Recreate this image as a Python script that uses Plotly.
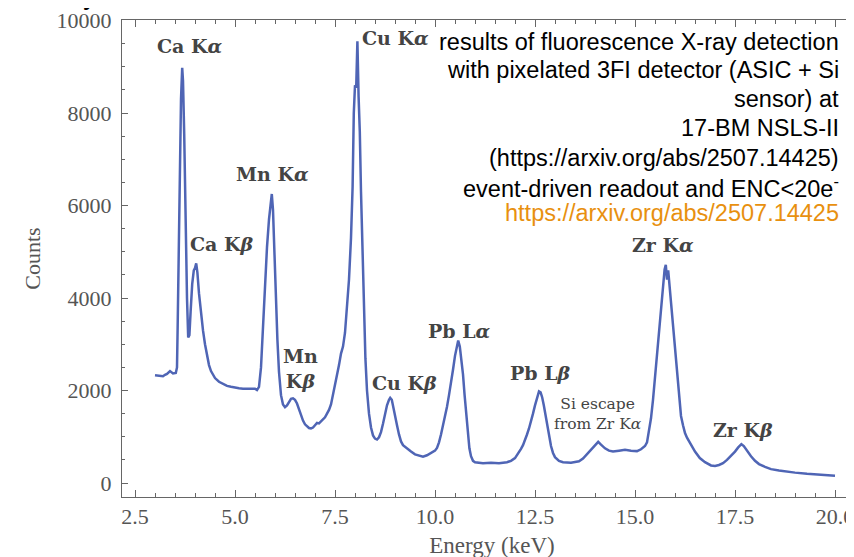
import plotly.graph_objects as go

# Energy (keV) and counts
energy = [3.00, 3.10, 3.20, 3.25, 3.30, 3.375, 3.45, 3.52, 3.55, 3.565, 3.58, 3.60, 3.625, 3.65, 3.68, 3.70,
          3.73, 3.75, 3.775, 3.80, 3.83, 3.86, 3.89, 3.93, 3.97, 4.00, 4.03, 4.06, 4.10, 4.15, 4.20, 4.25,
          4.30, 4.35, 4.40, 4.45, 4.50, 4.60, 4.70, 4.80, 4.90, 5.00, 5.10, 5.20, 5.30, 5.40, 5.50, 5.55,
          5.60, 5.65, 5.70, 5.75, 5.80, 5.85, 5.88, 5.92, 5.95, 5.98, 6.02, 6.06, 6.10, 6.15, 6.20, 6.25,
          6.30, 6.35, 6.40, 6.45, 6.50, 6.55, 6.60, 6.65, 6.70, 6.75, 6.80, 6.85, 6.90, 6.95, 7.00, 7.05,
          7.10, 7.15, 7.20, 7.25, 7.30, 7.35, 7.40, 7.45, 7.50, 7.55, 7.60, 7.65, 7.70, 7.75, 7.80, 7.85,
          7.90, 7.94, 7.97, 8.00, 8.03, 8.06, 8.09, 8.12, 8.15, 8.18, 8.22, 8.26, 8.30, 8.35, 8.40, 8.45,
          8.50, 8.55, 8.60, 8.65, 8.70, 8.75, 8.80, 8.85, 8.88, 8.92, 8.96, 9.00, 9.05, 9.10, 9.15, 9.20,
          9.30, 9.40, 9.50, 9.60, 9.70, 9.80, 9.90, 10.00, 10.05, 10.10, 10.15, 10.20, 10.25, 10.30, 10.35,
          10.40, 10.45, 10.50, 10.55, 10.58, 10.62, 10.66, 10.70, 10.74, 10.78, 10.82, 10.86, 10.90, 10.95,
          11.00, 11.20, 11.40, 11.60, 11.80, 11.90, 12.00, 12.05, 12.10, 12.15, 12.20, 12.25, 12.30, 12.35,
          12.40, 12.45, 12.50, 12.55, 12.60, 12.64, 12.68, 12.72, 12.76, 12.80, 12.85, 12.90, 12.95, 13.00,
          13.10, 13.20, 13.40, 13.60, 13.70, 13.80, 13.90, 14.00, 14.08, 14.15, 14.25, 14.35, 14.45, 14.60,
          14.75, 14.90, 15.05, 15.15, 15.25, 15.30, 15.35, 15.40, 15.45, 15.50, 15.55, 15.60, 15.65, 15.70,
          15.74, 15.77, 15.80, 15.83, 15.87, 15.91, 15.95, 16.00, 16.05, 16.10, 16.15, 16.20, 16.25, 16.30,
          16.40, 16.50, 16.62, 16.75, 16.90, 17.00, 17.10, 17.20, 17.30, 17.40, 17.50, 17.58, 17.66, 17.72,
          17.80, 17.90, 18.00, 18.10, 18.25, 18.40, 18.60, 18.80, 19.00, 19.30, 19.60, 19.80, 20.00]
counts = [2330, 2320, 2310, 2340, 2360, 2420, 2370, 2380, 2500, 3300, 4300, 5600, 7200, 8300, 8980, 8700,
          7550, 6300, 5000, 4000, 3150, 3200, 3700, 4300, 4600, 4650, 4750, 4550, 4100, 3650, 3300, 3000,
          2750, 2550, 2420, 2330, 2270, 2190, 2140, 2100, 2080, 2060, 2050, 2040, 2040, 2030, 2040, 2010,
          2080, 2500, 3400, 4300, 5100, 5700, 5950, 6250, 5900, 5100, 4000, 3100, 2400, 1900, 1700, 1640,
          1680, 1760, 1820, 1830, 1800, 1720, 1580, 1450, 1350, 1270, 1220, 1190, 1180, 1200, 1250, 1300,
          1290, 1340, 1390, 1420, 1500, 1580, 1700, 1900, 2150, 2350, 2550, 2800, 2950, 3250, 3800, 4400,
          5300, 6400, 8000, 8600, 8550, 9550, 8350, 7600, 6300, 5200, 3800, 2700, 2000, 1500, 1200, 1030,
          960, 940, 990, 1100, 1280, 1480, 1680, 1800, 1840, 1800, 1650, 1480, 1250, 1050, 900, 820,
          740, 680, 620, 590, 570, 600, 650, 700, 760, 880, 1050, 1230, 1420, 1650, 1900,
          2150, 2450, 2750, 3000, 3080, 2950, 2700, 2350, 1900, 1450, 1050, 750, 580, 480,
          450, 430, 440, 430, 450, 480, 540, 600, 660, 740, 820, 920, 1050, 1180,
          1320, 1500, 1680, 1850, 1980, 1960, 1850, 1680, 1480, 1270, 1000, 800, 650, 560,
          480, 450, 440, 470, 530, 620, 710, 800, 890, 830, 750, 700, 680, 700,
          720, 700, 690, 730, 800, 880, 1100, 1400, 1800, 2300, 2800, 3250, 3800, 4300,
          4620, 4720, 4400, 4600, 4200, 3800, 3350, 2850, 2300, 1800, 1450, 1250, 1080, 980,
          830, 680, 540, 450, 380, 370, 390, 430, 500, 580, 680, 770, 840, 800,
          700, 580, 480, 410, 350, 300, 270, 245, 225, 200, 180, 170, 160]

# Peak labels: (text, energy, counts)
peak_labels = ["Ca K<i>α</i>", "Cu K<i>α</i>", "Mn K<i>α</i>", "Ca K<i>β</i>", "Mn<br>K<i>β</i>",
               "Cu K<i>β</i>", "Pb L<i>α</i>", "Pb L<i>β</i>", "Zr K<i>α</i>", "Zr K<i>β</i>"]
label_e = [3.875, 9.0, 5.925, 4.675, 6.625, 9.225, 10.61, 12.625, 15.69, 17.71]
label_c = [9460, 9630, 6674, 5160, 2480, 2160, 3280, 2375, 5140, 1145]

escape_label = "Si escape<br>from Zr K<i>α</i>"
escape_e, escape_c = 14.075, 1490

info_lines = ["results of fluorescence X-ray detection",
              "with pixelated 3FI detector (ASIC + Si",
              "sensor) at",
              "17-BM NSLS-II",
              "(https://arxiv.org/abs/2507.14425)",
              "event-driven readout and ENC&lt;20e<sup>-</sup>",
              "https://arxiv.org/abs/2507.14425"]
info_colors = ["#000000"] * 6 + ["#E8900F"]

fig = go.Figure()
fig.add_trace(go.Scatter(x=energy, y=counts, mode="lines",
                         line=dict(color="#4f65b5", width=2.5), hoverinfo="skip"))

serif = "Liberation Serif"
for t, e, c in zip(peak_labels, label_e, label_c):
    fig.add_annotation(x=e, y=c, text="<b>" + t + "</b>", showarrow=False,
                       font=dict(family="DejaVu Serif", size=19, color="#444444"))
fig.add_annotation(x=escape_e, y=escape_c, text=escape_label, showarrow=False,
                   font=dict(family="DejaVu Serif", size=15.5, color="#444444"))

# info block, one line per annotation (paper coords; plot area 477 px tall)
line_centers_px = [42, 70, 99, 128, 158, 187, 213]
for txt, col, py in zip(info_lines, info_colors, line_centers_px):
    fig.add_annotation(xref="paper", yref="paper", x=0.972, y=1 - (py - 20) / 477,
                       xanchor="right", yanchor="middle", text=txt, showarrow=False,
                       font=dict(family="Liberation Sans", size=23.5, color=col))
# fragment of a cut-off heading above the chart
fig.add_annotation(xref="paper", yref="paper", x=-0.044, y=1.016, xanchor="center", yanchor="bottom",
                   text="<b>y</b>", showarrow=False,
                   font=dict(family="Liberation Sans", size=22, color="#000000"))

axis_color = "#666666"
fig.update_layout(
    width=854, height=557,
    margin=dict(l=114, r=0, t=12, b=68),
    paper_bgcolor="white", plot_bgcolor="white",
    showlegend=False,
    xaxis=dict(range=[2.175, 20.675], showgrid=False, zeroline=False,
               showline=True, linecolor=axis_color, linewidth=1, mirror="allticks",
               ticks="inside", ticklen=7, tickcolor=axis_color, tickwidth=1,
               tick0=2.5, dtick=2.5, tickformat=".1f",
               minor=dict(ticks="inside", ticklen=4, dtick=0.5, tick0=2.5, tickcolor=axis_color),
               tickfont=dict(family=serif, size=22, color="#555555"),
               title=dict(text="Energy (keV)", font=dict(family=serif, size=23, color="#555555"), standoff=8)),
    yaxis=dict(range=[-302, 10012], showgrid=False, zeroline=False,
               showline=True, linecolor=axis_color, linewidth=1,
               ticks="inside", ticklen=6, tickcolor=axis_color, tickwidth=1,
               tick0=0, dtick=2000, tickformat="d",
               minor=dict(ticks="inside", ticklen=3, dtick=500, tickcolor=axis_color),
               tickfont=dict(family=serif, size=22, color="#555555"),
               ticklabelstandoff=5,
               title=dict(text="Counts", font=dict(family=serif, size=22, color="#555555"), standoff=9)),
)
fig.write_html("out.html")
